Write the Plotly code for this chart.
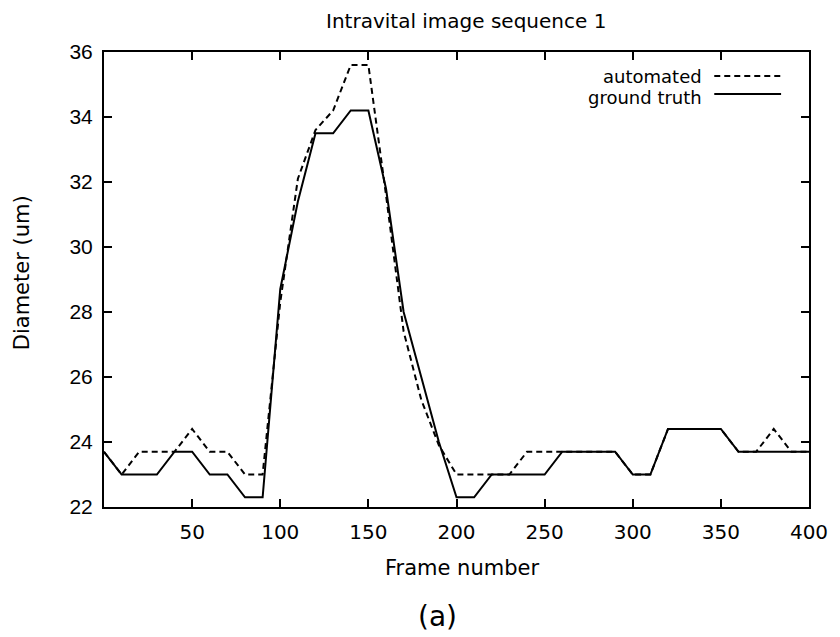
import plotly.graph_objects as go

frames = [0, 10, 20, 30, 40, 50, 60, 70, 80, 90, 100, 110, 120, 130, 140, 150,
          160, 170, 180, 190, 200, 210, 220, 230, 240, 250, 260, 270, 280, 290,
          300, 310, 320, 330, 340, 350, 360, 370, 380, 390, 400]

automated = [23.7, 23.0, 23.7, 23.7, 23.7, 24.4, 23.7, 23.7, 23.0, 23.0,
             28.3, 32.1, 33.6, 34.2, 35.6, 35.6, 31.6, 27.4, 25.3, 23.9,
             23.0, 23.0, 23.0, 23.0, 23.7, 23.7, 23.7, 23.7, 23.7, 23.7,
             23.0, 23.0, 24.4, 24.4, 24.4, 24.4, 23.7, 23.7, 24.4, 23.7, 23.7]

ground_truth = [23.7, 23.0, 23.0, 23.0, 23.7, 23.7, 23.0, 23.0, 22.3, 22.3,
                28.7, 31.4, 33.5, 33.5, 34.2, 34.2, 31.8, 28.0, 26.0, 24.0,
                22.3, 22.3, 23.0, 23.0, 23.0, 23.0, 23.7, 23.7, 23.7, 23.7,
                23.0, 23.0, 24.4, 24.4, 24.4, 24.4, 23.7, 23.7, 23.7, 23.7, 23.7]

x_ticks = [50, 100, 150, 200, 250, 300, 350, 400]
y_ticks = [22, 24, 26, 28, 30, 32, 34, 36]

FONT_W = "DejaVu Sans, Verdana, sans-serif"
FONT_N = "Liberation Sans, Arial, sans-serif"

fig = go.Figure()
fig.add_trace(go.Scatter(x=frames, y=automated, mode="lines", name="automated",
                         line=dict(color="black", width=2, dash="6px,4px")))
fig.add_trace(go.Scatter(x=frames, y=ground_truth, mode="lines", name="ground truth",
                         line=dict(color="black", width=2)))

W, H = 840, 637
L, R, T, B = 104, 29, 52, 130
PW, PH = W - L - R, H - T - B

fig.update_layout(
    width=W, height=H,
    margin=dict(l=L, r=R, t=T, b=B),
    paper_bgcolor="white", plot_bgcolor="white",
    showlegend=False,
    font=dict(family=FONT_W, color="black", size=20),
)

axis_common = dict(
    showgrid=False, zeroline=False,
    showline=True, linecolor="black", linewidth=2, mirror="allticks",
    ticks="inside", ticklen=8, tickwidth=1.5, tickcolor="black",
)
fig.update_xaxes(range=[0, 400], tickvals=x_ticks, ticklabelstandoff=6,
                 tickfont=dict(family=FONT_W, size=20, color="black"), **axis_common)
fig.update_yaxes(range=[22, 36], tickvals=y_ticks, ticklabelstandoff=5,
                 tickfont=dict(family=FONT_N, size=21, color="black"), **axis_common)

def px_x(p):
    return (p - L) / PW

def px_y(p):
    return (H - B - p) / PH

annotations = [
    dict(text="Intravital image sequence 1", x=px_x(467), y=px_y(21), xref="paper", yref="paper",
         showarrow=False, font=dict(family=FONT_W, size=20), xanchor="center", yanchor="middle"),
    dict(text="Frame number", x=px_x(463), y=px_y(568), xref="paper", yref="paper",
         showarrow=False, font=dict(family=FONT_W, size=21), xanchor="center", yanchor="middle"),
    dict(text="Diameter (um)", x=px_x(22), y=px_y(273), xref="paper", yref="paper",
         showarrow=False, font=dict(family=FONT_W, size=21), textangle=-90,
         xanchor="center", yanchor="middle"),
    dict(text="(a)", x=px_x(438), y=px_y(616), xref="paper", yref="paper",
         showarrow=False, font=dict(family=FONT_W, size=28), xanchor="center", yanchor="middle"),
    dict(text="automated", x=px_x(706), y=px_y(76), xref="paper", yref="paper",
         showarrow=False, font=dict(family=FONT_W, size=18), xanchor="right", yanchor="middle"),
    dict(text="ground truth", x=px_x(706), y=px_y(97), xref="paper", yref="paper",
         showarrow=False, font=dict(family=FONT_W, size=18), xanchor="right", yanchor="middle"),
]
fig.update_layout(annotations=annotations)

fig.add_shape(type="line", xref="paper", yref="paper",
              x0=px_x(716), x1=px_x(783), y0=px_y(76), y1=px_y(76),
              line=dict(color="black", width=2, dash="6px,4px"))
fig.add_shape(type="line", xref="paper", yref="paper",
              x0=px_x(716), x1=px_x(783), y0=px_y(94), y1=px_y(94),
              line=dict(color="black", width=2))

fig.write_html("out.html")
